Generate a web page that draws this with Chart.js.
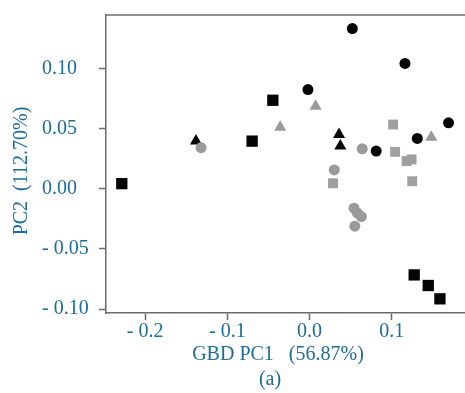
<!DOCTYPE html>
<html>
<head>
<meta charset="utf-8">
<script src="https://cdn.jsdelivr.net/npm/chart.js@4/dist/chart.umd.min.js"></script>
<style>
  html, body { margin: 0; padding: 0; background: #fff; overflow: hidden; }
  canvas { display: block; }
</style>
</head>
<body>
<canvas id="pca" width="465" height="393"></canvas>
<script>
// PCA scores
const blackCircleX = [0.052, 0.116, -0.002, 0.169, 0.131, 0.081];
const blackCircleY = [0.1335, 0.1045, 0.0827, 0.055, 0.042, 0.0315];
const greyCircleX = [-0.132, 0.064, 0.030, 0.054, 0.058, 0.063, 0.055];
const greyCircleY = [0.0343, 0.0334, 0.0158, -0.016, -0.020, -0.023, -0.031];
const blackSquareX = [-0.2284, -0.0447, -0.0699, 0.1272, 0.1443, 0.1585];
const blackSquareY = [0.0044, 0.0738, 0.0398, -0.0716, -0.0804, -0.0915];
const greySquareX = [0.1016, 0.104, 0.118, 0.124, 0.0285, 0.1248];
const greySquareY = [0.0536, 0.0309, 0.0232, 0.0246, 0.0047, 0.0064];
const blackTriangleX = [-0.1382, 0.0358, 0.0374];
const blackTriangleY = [0.0398, 0.0453, 0.0357];
const greyTriangleX = [0.0073, -0.0358, 0.148];
const greyTriangleY = [0.0688, 0.0514, 0.0431];

const xTicks = [-0.2, -0.1, 0.0, 0.1];
const xTickLabels = ['- 0.2', '- 0.1', '0.0', '0.1'];
const yTicks = [0.10, 0.05, 0.00, -0.05, -0.10];
const yTickLabels = ['0.10', '0.05', '0.00', '- 0.05', '- 0.10'];

const xTitle = 'GBD PC1   (56.87%)';
const yTitle = 'PC2  (112.70%)';
const panelLabel = '(a)';

const textColor = '#1c6d98';
const axisColor = '#6b6b6b';
const font = { family: '"Liberation Serif", "Times New Roman", serif', size: 20 };

function pts(xs, ys) {
  return xs.map((x, i) => ({ x: x, y: ys[i] }));
}

function series(label, xs, ys, style, color, r) {
  return {
    label: label,
    data: pts(xs, ys),
    pointStyle: style,
    pointRadius: r,
    pointHoverRadius: r,
    backgroundColor: color,
    borderColor: color,
    borderWidth: 0
  };
}

const decorations = {
  id: 'decorations',
  afterDraw(chart) {
    const ctx = chart.ctx;
    const a = chart.chartArea;
    ctx.save();
    // top frame line
    ctx.strokeStyle = axisColor;
    ctx.lineWidth = 1.5;
    ctx.beginPath();
    ctx.moveTo(a.left, a.top);
    ctx.lineTo(a.right, a.top);
    ctx.stroke();

    ctx.fillStyle = textColor;
    ctx.font = font.size + 'px ' + font.family;
    ctx.textAlign = 'center';
    ctx.textBaseline = 'middle';
    ctx.fillText(xTitle, 278, 355);
    ctx.fillText(panelLabel, 270, 380);

    ctx.translate(22, 171);
    ctx.rotate(-Math.PI / 2);
    ctx.fillText(yTitle, 0, 0);
    ctx.restore();
  }
};

new Chart(document.getElementById('pca'), {
  type: 'scatter',
  data: {
    datasets: [
      series('black circle', blackCircleX, blackCircleY, 'circle', '#050505', 5.5),
      series('grey circle', greyCircleX, greyCircleY, 'circle', '#9a9a9a', 5.5),
      series('black square', blackSquareX, blackSquareY, 'rect', '#050505', 8),
      series('grey square', greySquareX, greySquareY, 'rect', '#a0a0a0', 7),
      series('black triangle', blackTriangleX, blackTriangleY, 'triangle', '#050505', 7),
      series('grey triangle', greyTriangleX, greyTriangleY, 'triangle', '#9a9a9a', 7)
    ]
  },
  options: {
    responsive: false,
    animation: false,
    layout: { autoPadding: false, padding: { top: 13, left: 42, right: 0, bottom: 0 } },
    plugins: {
      legend: { display: false },
      tooltip: { enabled: false }
    },
    scales: {
      x: {
        type: 'linear',
        min: -0.2476,
        max: 0.189,
        afterBuildTicks: (scale) => { scale.ticks = xTicks.map(v => ({ value: v })); },
        afterFit: (scale) => { scale.height = 80; },
        border: { color: axisColor, width: 1.5 },
        grid: { drawOnChartArea: false, drawTicks: true, tickLength: 7, color: axisColor, tickWidth: 1.5 },
        ticks: {
          color: textColor,
          font: font,
          padding: 0,
          maxRotation: 0,
          callback: (v) => xTickLabels[xTicks.indexOf(v)]
        }
      },
      y: {
        type: 'linear',
        min: -0.1033,
        max: 0.1448,
        afterBuildTicks: (scale) => { scale.ticks = yTicks.map(v => ({ value: v })); },
        afterFit: (scale) => { scale.width = 64; },
        border: { color: axisColor, width: 1.5 },
        grid: { drawOnChartArea: false, drawTicks: true, tickLength: 7, color: axisColor, tickWidth: 1.5 },
        ticks: {
          color: textColor,
          font: font,
          crossAlign: 'far',
          callback: (v) => yTickLabels[yTicks.indexOf(v)]
        }
      }
    }
  },
  plugins: [decorations]
});
</script>
</body>
</html>
